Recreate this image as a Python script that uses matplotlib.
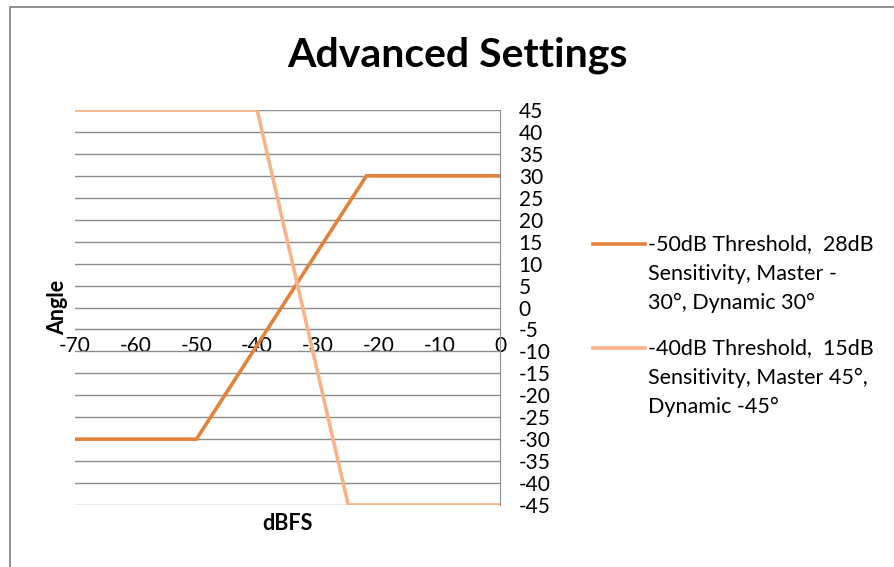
import matplotlib.pyplot as plt
from matplotlib.lines import Line2D
from matplotlib.patches import Rectangle

plt.rcParams['font.family'] = ['Lato', 'DejaVu Sans']
plt.rcParams['axes.unicode_minus'] = False

# series (dBFS -> angle)
dbfs_a = [-70, -50, -22, 0]
angle_a = [-30, -30, 30, 30]
dbfs_b = [-70, -40, -25, 0]
angle_b = [45, 45, -45, -45]

label_a = ["-50dB Threshold,  28dB", "Sensitivity, Master -", "30°, Dynamic 30°"]
label_b = ["-40dB Threshold,  15dB", "Sensitivity, Master 45°,", "Dynamic -45°"]

x_ticks = [-70, -60, -50, -40, -30, -20, -10, 0]
y_ticks = list(range(-45, 50, 5))

col_a = '#E3823B'
col_b = '#F9B38A'
grid_col = '#8C8C8C'

W, H = 895, 567
fig = plt.figure(figsize=(W / 100, H / 100), dpi=100)
fig.patch.set_facecolor('white')

# chart area border (cut off at right / bottom like the screenshot)
fig.patches.append(Rectangle((10 / W, -0.1), 1.2, 1 - 7 / H + 0.1, transform=fig.transFigure,
                             fill=False, edgecolor='#7F7F7F', linewidth=1.2))

ax = fig.add_axes([75 / W, 1 - 505 / H, 425 / W, 395 / H])
ax.plot(dbfs_a, angle_a, color=col_a, linewidth=2.6, solid_joinstyle='miter', zorder=3)
ax.plot(dbfs_b, angle_b, color=col_b, linewidth=2.6, solid_joinstyle='miter', zorder=3)

ax.set_xlim(-70, 0)
ax.set_ylim(-45, 45)
ax.set_xticks(x_ticks)
ax.set_yticks(y_ticks)
ax.yaxis.grid(True, color=grid_col, linewidth=1)
ax.set_axisbelow(True)

for s in ['left', 'top']:
    ax.spines[s].set_visible(False)
ax.spines['right'].set_color(grid_col)
ax.spines['bottom'].set_position(('data', -5))
ax.spines['bottom'].set_color(grid_col)

ax.yaxis.tick_right()
ax.tick_params(axis='y', length=0, pad=13.5, labelsize=15)
ax.tick_params(axis='x', length=0, pad=5, labelsize=15)

ax.text(-0.04, 0.5, 'Angle', transform=ax.transAxes, rotation=90, ha='center', va='center',
        fontsize=15.5, fontweight='bold')
ax.text(0.5, -0.046, 'dBFS', transform=ax.transAxes, ha='center', va='center',
        fontsize=15.5, fontweight='bold')

fig.text(457 / W, 1 - 55 / H, 'Advanced Settings', ha='center', va='center',
         fontsize=29.5, fontweight='bold')

# legend, drawn by hand so the key lines sit on the first text line
for lines, col, y0 in [(label_a, col_a, 244), (label_b, col_b, 348)]:
    fig.add_artist(Line2D([593 / W, 645 / W], [1 - y0 / H, 1 - y0 / H], color=col,
                          linewidth=2.6, transform=fig.transFigure))
    for i, t in enumerate(lines):
        fig.text(648 / W, 1 - (y0 + i * 29.5) / H, t, ha='left', va='center', fontsize=15.5)

fig.savefig('out.png', dpi=100)
